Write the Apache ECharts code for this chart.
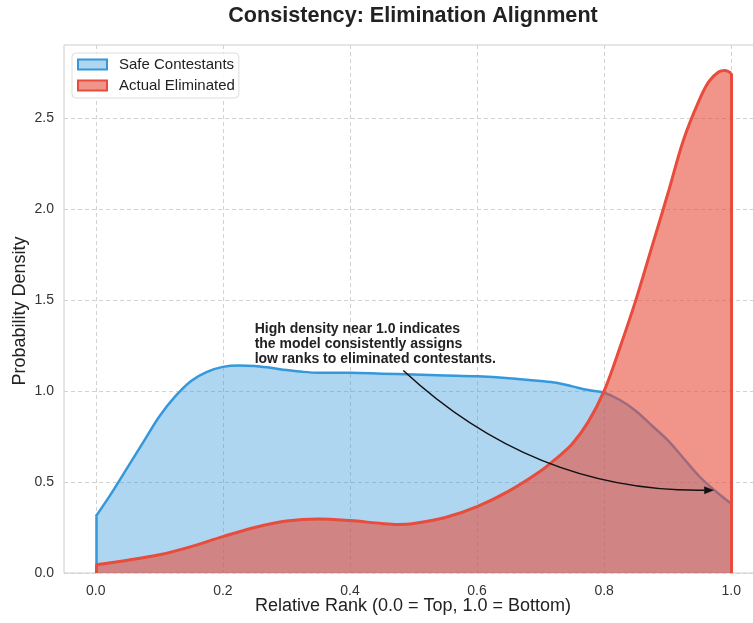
<!DOCTYPE html>
<html><head><meta charset="utf-8">
<script src="https://cdn.jsdelivr.net/npm/echarts@6/dist/echarts.min.js"></script>
<style>html,body{margin:0;padding:0;background:#fff;overflow:hidden;width:753px;height:623px}#c{width:763px;height:623px}</style>
</head><body><div id="c"></div>
<script>
// ---- data ----
const seriesNames = ['Safe Contestants', 'Actual Eliminated'];
const rankSafe = [0,0.025,0.05,0.075,0.1,0.125,0.15,0.175,0.2,0.225,0.25,0.275,0.3,0.325,0.35,0.4,0.45,0.5,0.55,0.6,0.65,0.7,0.725,0.75,0.775,0.8,0.825,0.85,0.875,0.9,0.925,0.95,0.975,1.0];
const densitySafe = [0.31,0.44,0.58,0.72,0.86,0.97,1.055,1.105,1.132,1.14,1.137,1.127,1.115,1.105,1.10,1.10,1.095,1.09,1.085,1.08,1.07,1.055,1.045,1.025,1.005,0.99,0.95,0.89,0.81,0.73,0.63,0.53,0.45,0.38];
const rankElim = [0,0.05,0.1,0.15,0.2,0.25,0.3,0.35,0.4,0.45,0.475,0.5,0.55,0.6,0.65,0.7,0.725,0.75,0.775,0.8,0.825,0.85,0.875,0.9,0.925,0.95,0.965,0.98,0.99,1.0];
const densityElim = [0.045,0.07,0.10,0.145,0.20,0.25,0.285,0.297,0.288,0.272,0.267,0.272,0.305,0.365,0.45,0.56,0.63,0.71,0.83,1.0,1.24,1.50,1.79,2.08,2.38,2.60,2.70,2.752,2.76,2.745];
const xTicks = [0, 0.2, 0.4, 0.6, 0.8, 1.0];
const yTicks = [0, 0.5, 1.0, 1.5, 2.0, 2.5];
const titleText = 'Consistency: Elimination Alignment';
const xName = 'Relative Rank (0.0 = Top, 1.0 = Bottom)';
const yName = 'Probability Density';
const noteLines = ['High density near 1.0 indicates', 'the model consistently assigns', 'low ranks to eliminated contestants.'];
// annotation anchors (data space)
const noteAnchor = [0.25, 1.38];
const arrowFrom = [0.484, 1.112];
const arrowTo = [0.972, 0.455];
const arrowRad = 0.2;

// ---- style ----
const FONT = "'Liberation Sans', Arial, sans-serif";
const BLUE = '#3498db', RED = '#e74c3c';
const BLUE_FILL = 'rgba(52,152,219,0.4)', RED_FILL = 'rgba(231,76,60,0.6)';

function pairs(xs, ys) { return xs.map((x, i) => [x, ys[i]]); }
function edges(xs, ys) {
  const n = xs.length - 1;
  return [
    [{ coord: [xs[0], 0] }, { coord: [xs[0], ys[0]] }],
    [{ coord: [xs[n], 0] }, { coord: [xs[n], ys[n]] }]
  ];
}
function densitySeries(name, xs, ys, color, fill, width, z) {
  return {
    name, type: 'line', z, data: pairs(xs, ys), smooth: 0.35, symbol: 'none', showSymbol: false,
    lineStyle: { color, width }, itemStyle: { color },
    areaStyle: { color: fill, opacity: 1 },
    emphasis: { disabled: true }, silent: true,
    markLine: {
      z, silent: true, symbol: 'none', label: { show: false },
      lineStyle: { color, width, type: 'solid' }, emphasis: { disabled: true },
      data: edges(xs, ys)
    }
  };
}

const chart = echarts.init(document.getElementById('c'), null, { renderer: 'canvas' });
const option = {
  animation: false,
  backgroundColor: '#fff',
  textStyle: { fontFamily: FONT },
  grid: { left: 64, top: 45, right: 0, bottom: 50, show: true, borderColor: '#cccccc', borderWidth: 1, backgroundColor: '#fff', containLabel: false },
  xAxis: {
    type: 'value', min: -0.05, max: 1.05,
    axisLine: { show: false },
    axisTick: { show: false, customValues: xTicks },
    axisLabel: { customValues: xTicks, formatter: v => v.toFixed(1), color: '#333', fontSize: 14, margin: 11, fontFamily: FONT },
    splitLine: { show: true, lineStyle: { color: '#d2d2d2', type: [4, 3], width: 1 } }
  },
  yAxis: {
    type: 'value', min: 0, max: 2.9,
    axisLine: { show: false },
    axisTick: { show: false, customValues: yTicks },
    axisLabel: { customValues: yTicks, formatter: v => v.toFixed(1), color: '#333', fontSize: 14, margin: 10, fontFamily: FONT },
    splitLine: { show: true, lineStyle: { color: '#d2d2d2', type: [4, 3], width: 1 } }
  },
  legend: {
    orient: 'vertical', left: 72, top: 53,
    padding: [4, 4, 5, 5], itemGap: 6, itemWidth: 29, itemHeight: 10,
    backgroundColor: 'rgba(255,255,255,0.85)', borderColor: '#dddddd', borderWidth: 1, borderRadius: 4,
    textStyle: { fontSize: 15, color: '#222', fontFamily: FONT, padding: [0, 0, 0, 7] },
    selectedMode: false,
    data: [
      { name: seriesNames[0], icon: 'rect', itemStyle: { color: BLUE_FILL, borderColor: BLUE, borderWidth: 2 } },
      { name: seriesNames[1], icon: 'rect', itemStyle: { color: RED_FILL, borderColor: RED, borderWidth: 2 } }
    ]
  },
  series: [
    densitySeries(seriesNames[0], rankSafe, densitySafe, BLUE, BLUE_FILL, 2.5, 2),
    densitySeries(seriesNames[1], rankElim, densityElim, RED, RED_FILL, 3, 4)
  ]
};
chart.setOption(option);

// annotation (positions derived from data-space anchors)
const notePx = chart.convertToPixel({ gridIndex: 0 }, noteAnchor);
const p1 = chart.convertToPixel({ gridIndex: 0 }, arrowFrom);
const p2 = chart.convertToPixel({ gridIndex: 0 }, arrowTo);
const ddx = p2[0] - p1[0], ddy = p2[1] - p1[1];
const cp = [(p1[0] + p2[0]) / 2 - arrowRad * ddy, (p1[1] + p2[1]) / 2 + arrowRad * ddx];
const tx = p2[0] - cp[0], ty = p2[1] - cp[1], tl = Math.hypot(tx, ty);
const ux = tx / tl, uy = ty / tl;
const headL = 9, headW = 3.6;
const base = [p2[0] - ux * headL, p2[1] - uy * headL];
const headPts = [p2, [base[0] - uy * headW, base[1] + ux * headW], [base[0] + uy * headW, base[1] - ux * headW]];

chart.setOption({
  graphic: [
    { type: 'text', x: 413, y: 16, silent: true, style: { text: titleText, font: "bold 21.6px " + FONT, fill: '#222', align: 'center', verticalAlign: 'middle' } },
    { type: 'text', x: 413, y: 606, silent: true, style: { text: xName, font: "18px " + FONT, fill: '#222', align: 'center', verticalAlign: 'middle' } },
    { type: 'text', x: 20, y: 311, rotation: Math.PI / 2, silent: true, style: { text: yName, font: "18px " + FONT, fill: '#222', align: 'center', verticalAlign: 'middle' } },
    { type: 'text', x: notePx[0], y: notePx[1], z: 20, silent: true, style: { text: noteLines.join('\n'), font: "bold 14px " + FONT, lineHeight: 15, fill: '#222', align: 'left', verticalAlign: 'top' } },
    { type: 'bezierCurve', z: 20, silent: true, shape: { x1: p1[0], y1: p1[1], x2: base[0], y2: base[1], cpx1: cp[0], cpy1: cp[1] }, style: { stroke: '#111', lineWidth: 1.5, fill: null } },
    { type: 'polygon', z: 20, silent: true, shape: { points: headPts }, style: { fill: '#111', stroke: '#111', lineWidth: 0.5 } }
  ]
});
</script></body></html>
